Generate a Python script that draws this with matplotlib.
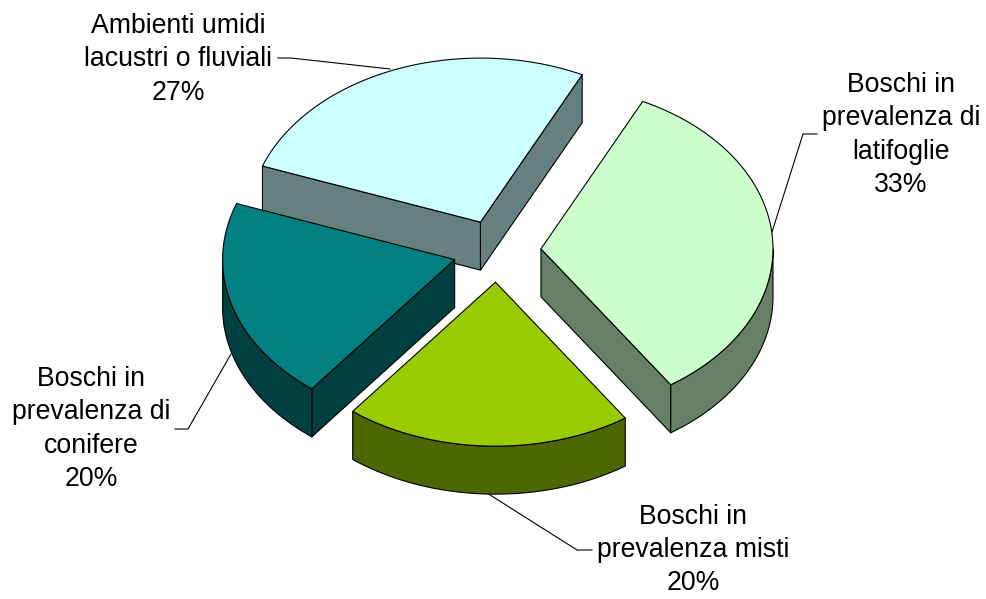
import numpy as np
import matplotlib
matplotlib.use('Agg')
import matplotlib.pyplot as plt

plt.rcParams['font.family'] = ['Liberation Sans', 'DejaVu Sans']

# Dati
labels = ['Boschi in\nprevalenza di\nlatifoglie\n33%',
          'Boschi in\nprevalenza misti\n20%',
          'Boschi in\nprevalenza di\nconifere\n20%',
          'Ambienti umidi\nlacustri o fluviali\n27%']
values = [33.33, 20, 20, 26.67]
top_colors = ['#CCFFCC', '#99CC00', '#008080', '#CCFFFF']
side_colors = ['#668066', '#4D6600', '#004040', '#668080']

# Geometria della torta (pixel)
cx, cy = 497, 251
rx, ry = 232, 164
depth = 48
explode = 0.19
start_angle = 26


def ell(theta, c):
    return np.column_stack([c[0] + rx * np.sin(theta), c[1] - ry * np.cos(theta)])


def draw_slice(ax, a0, a1, top, side, z):
    mid = (a0 + a1) / 2
    c = (cx + explode * rx * np.sin(mid), cy - explode * ry * np.cos(mid))
    down = np.array([0, depth])
    apex = np.array(c)
    style = dict(edgecolor='black', linewidth=0.8, joinstyle='round', zorder=z)

    # pareti radiali visibili
    if np.sin(a0) < 0:
        p = ell(np.array([a0]), c)[0]
        ax.fill(*np.array([apex, p, p + down, apex + down]).T, facecolor=side, **style)
    if np.sin(a1) > 0:
        p = ell(np.array([a1]), c)[0]
        ax.fill(*np.array([apex, p, p + down, apex + down]).T, facecolor=side, **style)

    # bordo esterno (solo la parte davanti)
    lo, hi = max(a0, np.pi / 2), min(a1, 3 * np.pi / 2)
    if hi > lo:
        arc = ell(np.linspace(lo, hi, 80), c)
        ax.fill(*np.vstack([arc, arc[::-1] + down]).T, facecolor=side, **style)

    # faccia superiore
    arc = ell(np.linspace(a0, a1, 160), c)
    ax.fill(*np.vstack([apex, arc]).T, facecolor=top, **style)


fig = plt.figure(figsize=(9.87, 5.99), dpi=100)
ax = fig.add_axes([0, 0, 1, 1])
ax.set_xlim(0, 987)
ax.set_ylim(599, 0)
ax.axis('off')

# Linee guida
leaders = [[(817, 134), (803, 134), (772, 232)],
           [(592, 550), (577, 550), (487, 493)],
           [(175, 429), (188, 429), (231, 354)],
           [(278, 58), (291, 58), (390, 69)]]
text_pos = [(901, 135), (693, 550), (91, 429), (178, 59.5)]

angles = np.radians(start_angle + np.cumsum([0] + values) * 3.6)
spans = list(zip(angles[:-1], angles[1:]))

for leader in leaders:
    ax.plot(*zip(*leader), color='black', linewidth=0.8, zorder=1)

# ordine di disegno: dal fondo verso il davanti
for z, i in enumerate([3, 0, 2, 1]):
    draw_slice(ax, spans[i][0], spans[i][1], top_colors[i], side_colors[i], 2 + z)

for lab, (x, y) in zip(labels, text_pos):
    ax.text(x, y, lab, ha='center', va='center', fontsize=19.2, color='black',
            linespacing=1.37, zorder=10)

fig.savefig('out.png', dpi=100, facecolor='white')
